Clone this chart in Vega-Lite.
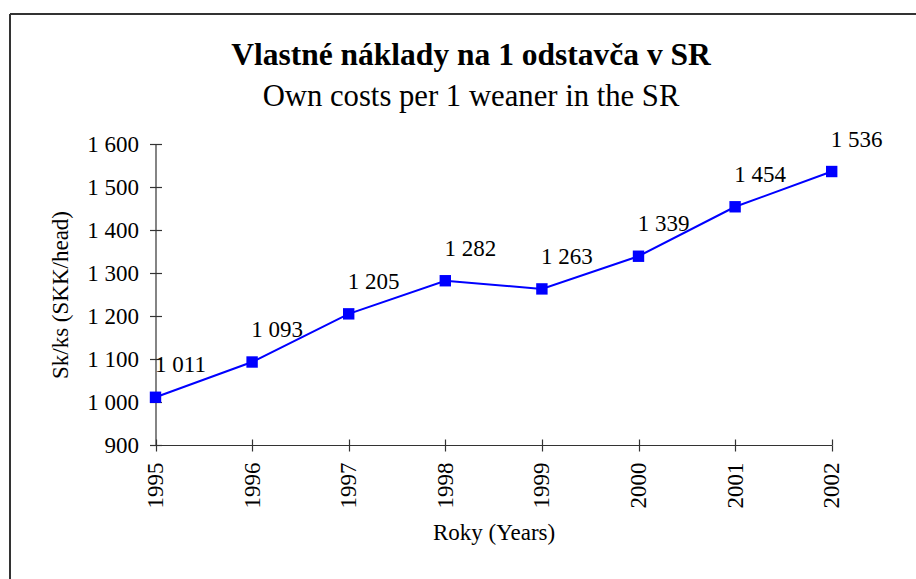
{
  "$schema": "https://vega.github.io/schema/vega-lite/v6.json",
  "width": 906,
  "height": 565,
  "autosize": "none",
  "padding": {"left": 10, "top": 14, "right": 0, "bottom": 0},
  "background": "white",
  "config": {
    "locale": {"number": {"decimal": ",", "thousands": " ", "grouping": [3], "currency": ["", ""]}},
    "font": "Liberation Serif",
    "view": {"stroke": "#333333", "strokeWidth": 2, "strokeDash": [906, 1471, 565, 0]},
    "axis": {
      "domainColor": "#333333",
      "tickColor": "#333333",
      "domainWidth": 1.2,
      "tickWidth": 1.2,
      "labelFont": "Liberation Serif",
      "labelFontSize": 23,
      "labelColor": "black",
      "titleFont": "Liberation Serif",
      "titleFontSize": 23,
      "titleFontWeight": "normal",
      "titleColor": "black",
      "grid": false
    }
  },
  "title": {
    "text": "Vlastné náklady na 1 odstavča v SR",
    "subtitle": "Own costs per 1 weaner in the SR",
    "anchor": "middle",
    "frame": "group",
    "font": "Liberation Serif",
    "fontSize": 31.5,
    "fontWeight": "bold",
    "color": "black",
    "subtitleFont": "Liberation Serif",
    "subtitleFontSize": 30.7,
    "subtitleColor": "black",
    "subtitlePadding": 11,
    "dx": 8,
    "dy": 102
  },
  "data": {
    "values": [
      {"year": 1995, "value": 1011},
      {"year": 1996, "value": 1093},
      {"year": 1997, "value": 1205},
      {"year": 1998, "value": 1282},
      {"year": 1999, "value": 1263},
      {"year": 2000, "value": 1339},
      {"year": 2001, "value": 1454},
      {"year": 2002, "value": 1536}
    ]
  },
  "layer": [
    {
      "mark": {"type": "line", "color": "#0000FF", "strokeWidth": 2},
      "encoding": {
        "x": {
          "field": "year", "type": "quantitative",
          "scale": {"domain": [1995, 2002], "range": [145.5, 821.7], "nice": false, "zero": false},
          "axis": {
            "orient": "bottom", "offset": -134,
            "values": [1995, 1996, 1997, 1998, 1999, 2000, 2001, 2002],
            "format": "d", "labelAngle": -90, "labelAlign": "right", "labelBaseline": "middle",
            "tickSize": 6, "labelPadding": 11,
            "title": "Roky (Years)", "titlePadding": 13
          }
        },
        "y": {
          "field": "value", "type": "quantitative",
          "scale": {"domain": [900, 1600], "range": [431, 130], "nice": false, "zero": false},
          "axis": {
            "orient": "left", "offset": -145.5,
            "values": [900, 1000, 1100, 1200, 1300, 1400, 1500, 1600],
            "format": ",d", "tickSize": 6, "labelPadding": 11, "labelBaseline": "middle",
            "title": "Sk/ks (SKK/head)", "titlePadding": 14
          }
        }
      }
    },
    {
      "mark": {"type": "square", "color": "#0000FF", "filled": true, "size": 130, "opacity": 1},
      "encoding": {
        "x": {
          "field": "year", "type": "quantitative",
          "axis": {
            "orient": "bottom", "offset": -134, "domain": false, "labels": false,
            "values": [1995, 1996, 1997, 1998, 1999, 2000, 2001, 2002],
            "tickSize": -6, "title": null
          }
        },
        "y": {
          "field": "value", "type": "quantitative",
          "axis": {
            "orient": "left", "offset": -145.5, "domain": false, "labels": false,
            "values": [900, 1000, 1100, 1200, 1300, 1400, 1500, 1600],
            "tickSize": -6, "title": null
          }
        }
      }
    },
    {
      "mark": {"type": "text", "font": "Liberation Serif", "fontSize": 23, "color": "black", "dx": 25, "dy": -32, "align": "center", "baseline": "middle"},
      "encoding": {
        "x": {"field": "year", "type": "quantitative", "axis": null},
        "y": {"field": "value", "type": "quantitative", "axis": null},
        "text": {"field": "value", "type": "quantitative", "format": ",d"}
      }
    }
  ],
  "resolve": {"axis": {"x": "independent", "y": "independent"}}
}
